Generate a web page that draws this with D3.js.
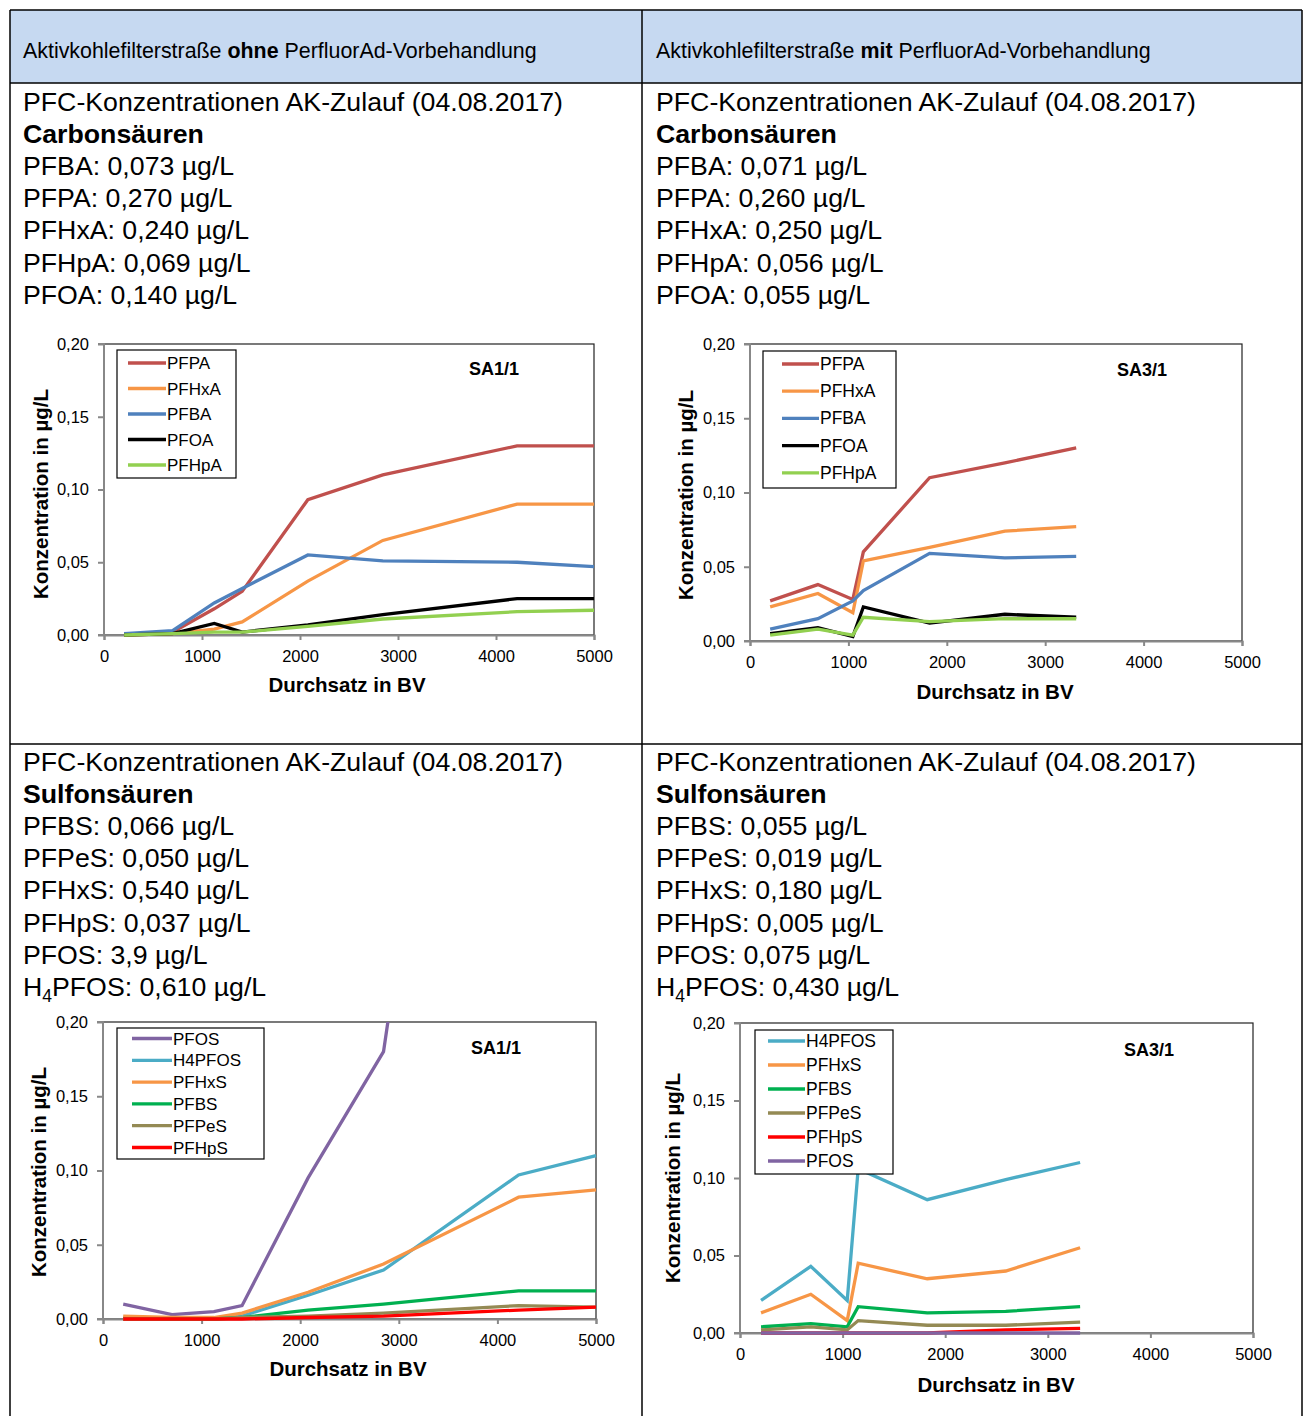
<!DOCTYPE html>
<html><head><meta charset="utf-8">
<script src="https://cdn.jsdelivr.net/npm/d3@7"></script>
<style>
html,body{margin:0;padding:0;background:#fff;}
svg{display:block;font-family:"Liberation Sans",Arial,sans-serif;}
</style></head>
<body>
<svg id="chart" width="1304" height="1416"></svg>
<script>
// ---------- DATA ----------
const xTicks = [0, 1000, 2000, 3000, 4000, 5000];
const yTicks = [0, 0.05, 0.10, 0.15, 0.20];
const yTickLabels = ["0,00", "0,05", "0,10", "0,15", "0,20"];

const headerLeft = ["Aktivkohlefilterstraße ", "ohne", " PerfluorAd-Vorbehandlung"];
const headerRight = ["Aktivkohlefilterstraße ", "mit", " PerfluorAd-Vorbehandlung"];

const textTopLeft = ["PFBA: 0,073 µg/L", "PFPA: 0,270 µg/L", "PFHxA: 0,240 µg/L", "PFHpA: 0,069 µg/L", "PFOA: 0,140 µg/L"];
const textTopRight = ["PFBA: 0,071 µg/L", "PFPA: 0,260 µg/L", "PFHxA: 0,250 µg/L", "PFHpA: 0,056 µg/L", "PFOA: 0,055 µg/L"];
const textBottomLeft = ["PFBS: 0,066 µg/L", "PFPeS: 0,050 µg/L", "PFHxS: 0,540 µg/L", "PFHpS: 0,037 µg/L", "PFOS: 3,9 µg/L", "H4PFOS: 0,610 µg/L"];
const textBottomRight = ["PFBS: 0,055 µg/L", "PFPeS: 0,019 µg/L", "PFHxS: 0,180 µg/L", "PFHpS: 0,005 µg/L", "PFOS: 0,075 µg/L", "H4PFOS: 0,430 µg/L"];

// Throughput (BV)
const bvSA1 = [205, 700, 1125, 1410, 2080, 2845, 4215, 5000];
const bvSA3 = [205, 690, 1045, 1152, 1825, 2590, 3315];

// Carbonsäuren SA1/1
const sa1PFPA  = [0.000, 0.002, 0.018, 0.030, 0.093, 0.110, 0.130, 0.130];
const sa1PFHxA = [0.000, 0.001, 0.004, 0.009, 0.037, 0.065, 0.090, 0.090];
const sa1PFBA  = [0.001, 0.003, 0.022, 0.032, 0.055, 0.051, 0.050, 0.047];
const sa1PFOA  = [0.000, 0.001, 0.008, 0.002, 0.007, 0.014, 0.025, 0.025];
const sa1PFHpA = [0.000, 0.001, 0.002, 0.002, 0.006, 0.011, 0.016, 0.017];

// Carbonsäuren SA3/1
const sa3PFPA  = [0.027, 0.038, 0.028, 0.060, 0.110, 0.120, 0.130];
const sa3PFHxA = [0.023, 0.032, 0.019, 0.054, 0.063, 0.074, 0.077];
const sa3PFBA  = [0.008, 0.015, 0.027, 0.034, 0.059, 0.056, 0.057];
const sa3PFOA  = [0.005, 0.009, 0.003, 0.023, 0.012, 0.018, 0.016];
const sa3PFHpA = [0.004, 0.008, 0.004, 0.016, 0.013, 0.015, 0.015];

// Sulfonsäuren SA1/1
const sa1PFOS   = [0.010, 0.003, 0.005, 0.009, 0.095, 0.180, 0.800, 1.000];
const sa1H4PFOS = [0.001, 0.000, 0.000, 0.002, 0.016, 0.033, 0.097, 0.110];
const sa1PFHxS  = [0.002, 0.001, 0.001, 0.004, 0.018, 0.037, 0.082, 0.087];
const sa1PFBS   = [0.000, 0.000, 0.000, 0.001, 0.006, 0.010, 0.019, 0.019];
const sa1PFPeS  = [0.000, 0.000, 0.000, 0.001, 0.002, 0.004, 0.009, 0.008];
const sa1PFHpS  = [0.000, 0.000, 0.000, 0.000, 0.001, 0.002, 0.006, 0.008];

// Sulfonsäuren SA3/1
const sa3H4PFOS = [0.021, 0.043, 0.021, 0.106, 0.086, 0.099, 0.110];
const sa3PFHxS  = [0.013, 0.025, 0.008, 0.045, 0.035, 0.040, 0.055];
const sa3PFBS   = [0.004, 0.006, 0.004, 0.017, 0.013, 0.014, 0.017];
const sa3PFPeS  = [0.002, 0.004, 0.002, 0.008, 0.005, 0.005, 0.007];
const sa3PFHpS  = [0.000, 0.000, 0.000, 0.000, 0.000, 0.002, 0.003];
const sa3PFOS   = [0.000, 0.000, 0.000, 0.000, 0.000, 0.000, 0.000];

const col = {
  PFPA: "#c0504d", PFHxA: "#f79646", PFBA: "#4f81bd", PFOA: "#000000", PFHpA: "#92d050",
  PFOS: "#8064a2", H4PFOS: "#4bacc6", PFHxS: "#f79646", PFBS: "#00b050", PFPeS: "#948a54", PFHpS: "#ff0000"
};

// ---------- DRAW ----------
const svg = d3.select("#chart");

// Table
svg.append("rect").attr("x", 10).attr("y", 10).attr("width", 1292).attr("height", 73).attr("fill", "#c6d9f1");
const tl = (x1, y1, x2, y2) => svg.append("line").attr("x1", x1).attr("y1", y1).attr("x2", x2).attr("y2", y2)
  .attr("stroke", "#000").attr("stroke-width", 1.5);
tl(10, 10, 1302, 10); tl(10, 83, 1302, 83); tl(10, 744, 1302, 744);
tl(10, 10, 10, 1416); tl(642, 10, 642, 1416); tl(1302, 10, 1302, 1416);

function header(x, parts) {
  const t = svg.append("text").attr("x", x).attr("y", 57.5).attr("font-size", 21.4).attr("fill", "#000");
  parts.forEach((p, i) => t.append("tspan").text(p).attr("font-weight", i === 1 ? "bold" : "normal"));
}
header(23, headerLeft);
header(656, headerRight);

function cellText(x, y0, title, lines) {
  const g = svg.append("g").attr("font-size", 26.7).attr("fill", "#000");
  g.append("text").attr("x", x).attr("y", y0).text("PFC-Konzentrationen AK-Zulauf (04.08.2017)");
  g.append("text").attr("x", x).attr("y", y0 + 32.1).attr("font-weight", "bold").text(title);
  lines.forEach((l, i) => {
    const t = g.append("text").attr("x", x).attr("y", y0 + 64.2 + i * 32.1);
    if (l.startsWith("H4")) {
      t.append("tspan").text("H");
      t.append("tspan").text("4").attr("font-size", 17.5).attr("dy", 6);
      t.append("tspan").text(l.slice(2)).attr("dy", -6);
    } else t.text(l);
  });
}
cellText(23, 111, "Carbonsäuren", textTopLeft);
cellText(656, 111, "Carbonsäuren", textTopRight);
cellText(23, 771, "Sulfonsäuren", textBottomLeft);
cellText(656, 771, "Sulfonsäuren", textBottomRight);

let clipId = 0;
function drawChart(cfg) {
  const x = d3.scaleLinear().domain([0, 5000]).range([cfg.x0, cfg.x1]);
  const y = d3.scaleLinear().domain([0, 0.2]).range([cfg.y0, cfg.y1]);
  const g = svg.append("g");
  // frame
  g.append("rect").attr("x", cfg.x0).attr("y", cfg.y1).attr("width", cfg.x1 - cfg.x0).attr("height", cfg.y0 - cfg.y1)
    .attr("fill", "none").attr("stroke", "#222").attr("stroke-width", 1.2);
  // axes
  const ya = g.append("g").attr("transform", `translate(${cfg.x0},0)`)
    .call(d3.axisLeft(y).tickValues(yTicks).tickSize(6).tickPadding(9).tickFormat((d, i) => yTickLabels[i]));
  const xa = g.append("g").attr("transform", `translate(0,${cfg.y0})`)
    .call(d3.axisBottom(x).tickValues(xTicks).tickSize(5).tickPadding(10).tickFormat(d3.format("d")));
  [ya, xa].forEach(a => {
    a.select(".domain").attr("stroke", "#888").attr("stroke-width", 2);
    a.selectAll(".tick line").attr("stroke", "#888").attr("stroke-width", 2);
    a.selectAll(".tick text").attr("font-size", 16.5).attr("fill", "#000").attr("font-family", "Liberation Sans, Arial, sans-serif");
  });
  ya.select(".domain").attr("d", `M-6,${cfg.y1}H0V${cfg.y0}H-6`);
  // lines
  const id = "clip" + (clipId++);
  g.append("clipPath").attr("id", id).append("rect")
    .attr("x", cfg.x0).attr("y", cfg.y1).attr("width", cfg.x1 - cfg.x0 + 3).attr("height", cfg.y0 - cfg.y1 + 3);
  const lg = g.append("g").attr("clip-path", `url(#${id})`);
  const line = d3.line().x(d => x(d[0])).y(d => y(d[1]));
  cfg.series.forEach(s => {
    lg.append("path").datum(cfg.bv.map((b, i) => [b, s.values[i]]))
      .attr("d", line).attr("fill", "none").attr("stroke", col[s.name]).attr("stroke-width", 3.3)
      .attr("stroke-linejoin", "miter");
  });
  // legend
  const L = cfg.legend;
  g.append("rect").attr("x", L.x).attr("y", L.y).attr("width", L.w).attr("height", L.h)
    .attr("fill", "#fff").attr("stroke", "#000").attr("stroke-width", 1.2);
  cfg.series.forEach((s, i) => {
    const yy = L.y + L.first + i * L.step;
    g.append("line").attr("x1", L.lx).attr("x2", L.lx + L.lw).attr("y1", yy).attr("y2", yy)
      .attr("stroke", col[s.name]).attr("stroke-width", 3.3);
    g.append("text").attr("x", L.lx + L.lw + 1).attr("y", yy + 6).attr("font-size", L.fs).text(s.name);
  });
  // SA label
  g.append("text").attr("x", cfg.sa[0]).attr("y", cfg.sa[1]).attr("text-anchor", "middle")
    .attr("font-size", 18).attr("font-weight", "bold").text(cfg.saText);
  // titles
  g.append("text").attr("x", cfg.xt[0]).attr("y", cfg.xt[1]).attr("text-anchor", "middle")
    .attr("font-size", 20.5).attr("font-weight", "bold").text("Durchsatz in BV");
  g.append("text").attr("transform", `translate(${cfg.yt[0]},${cfg.yt[1]}) rotate(-90)`).attr("text-anchor", "middle")
    .attr("font-size", 20.5).attr("font-weight", "bold").text("Konzentration in µg/L");
}

drawChart({
  x0: 104, x1: 594, y0: 635, y1: 344, bv: bvSA1, saText: "SA1/1", sa: [494, 374.5],
  xt: [347, 691.5], yt: [47.5, 494],
  legend: { x: 117, y: 350, w: 119, h: 128, first: 13, step: 25.5, lx: 128, lw: 38, fs: 17 },
  series: [
    { name: "PFPA", values: sa1PFPA }, { name: "PFHxA", values: sa1PFHxA }, { name: "PFBA", values: sa1PFBA },
    { name: "PFOA", values: sa1PFOA }, { name: "PFHpA", values: sa1PFHpA }]
});
drawChart({
  x0: 750, x1: 1242, y0: 641, y1: 344, bv: bvSA3, saText: "SA3/1", sa: [1142, 375.5],
  xt: [995, 698.5], yt: [692.5, 495],
  legend: { x: 763, y: 351, w: 133, h: 137, first: 13, step: 27.2, lx: 782, lw: 37, fs: 17.5 },
  series: [
    { name: "PFPA", values: sa3PFPA }, { name: "PFHxA", values: sa3PFHxA }, { name: "PFBA", values: sa3PFBA },
    { name: "PFOA", values: sa3PFOA }, { name: "PFHpA", values: sa3PFHpA }]
});
drawChart({
  x0: 103, x1: 596, y0: 1319, y1: 1022, bv: bvSA1, saText: "SA1/1", sa: [496, 1053.5],
  xt: [348, 1375.5], yt: [45.5, 1172],
  legend: { x: 117, y: 1028, w: 147, h: 131, first: 10.5, step: 21.8, lx: 132, lw: 40, fs: 17 },
  series: [
    { name: "PFOS", values: sa1PFOS }, { name: "H4PFOS", values: sa1H4PFOS }, { name: "PFHxS", values: sa1PFHxS },
    { name: "PFBS", values: sa1PFBS }, { name: "PFPeS", values: sa1PFPeS }, { name: "PFHpS", values: sa1PFHpS }]
});
drawChart({
  x0: 740, x1: 1253, y0: 1333, y1: 1023, bv: bvSA3, saText: "SA3/1", sa: [1149, 1055.5],
  xt: [996, 1391.5], yt: [679.5, 1178],
  legend: { x: 755, y: 1030, w: 138, h: 144, first: 11, step: 24, lx: 768, lw: 37, fs: 17.5 },
  series: [
    { name: "H4PFOS", values: sa3H4PFOS }, { name: "PFHxS", values: sa3PFHxS }, { name: "PFBS", values: sa3PFBS },
    { name: "PFPeS", values: sa3PFPeS }, { name: "PFHpS", values: sa3PFHpS }, { name: "PFOS", values: sa3PFOS }]
});
</script>
</body></html>
